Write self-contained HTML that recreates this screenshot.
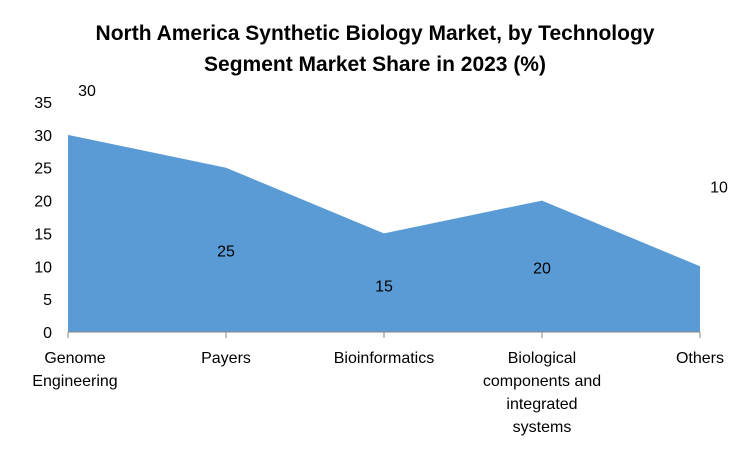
<!DOCTYPE html>
<html><head><meta charset="utf-8"><style>
body{margin:0;background:#fff;width:750px;height:450px;overflow:hidden;font-family:"Liberation Sans",sans-serif;}
svg text{font-family:"Liberation Sans",sans-serif;fill:#000;}
</style></head><body>
<svg id="chart" width="750" height="450" xmlns="http://www.w3.org/2000/svg">
<text x="375" y="40" text-anchor="middle" font-size="21" font-weight="bold">North America Synthetic Biology Market, by Technology</text>
<text x="375" y="71" text-anchor="middle" font-size="21" font-weight="bold">Segment Market Share in 2023 (%)</text>
<g id="plot"></g>
</svg>
<script>
const categories=[["Genome","Engineering"],["Payers"],["Bioinformatics"],["Biological","components and","integrated","systems"],["Others"]];
const values=[30,25,15,20,10];
const yTicks=[0,5,10,15,20,25,30,35];
const labelDx=[19,0,0,0,19];
const labelDy=[-45,83,52,67,-80];
const x0=68,x1=700,yBase=332,yTop=102,yMax=35;
const xs=i=>x0+i*(x1-x0)/(categories.length-1);
const ys=v=>yBase-v*(yBase-yTop)/yMax;
const ns="http://www.w3.org/2000/svg";
const g=document.getElementById('plot');
function mk(t,a){const e=document.createElementNS(ns,t);for(const k in a)e.setAttribute(k,a[k]);g.appendChild(e);return e;}
let d=`M${xs(0)},${yBase}`;
values.forEach((v,i)=>d+=` L${xs(i)},${ys(v)}`);
d+=` L${xs(values.length-1)},${yBase} Z`;
const area=mk('path',{d:d,fill:'#5B9BD5'});


const ax=mk('line',{x1:x0,y1:yBase,x2:x1,y2:yBase,stroke:'#868686','stroke-width':1});


yTicks.forEach(t=>{
 const e=mk('text',{x:52,y:ys(t)+6,'text-anchor':'end','font-size':16});
 e.textContent=t;
 
 
});
categories.forEach((c,i)=>{
 const tk=mk('line',{x1:xs(i),y1:yBase,x2:xs(i),y2:yBase+6,stroke:'#868686'});
 
 
 let xx=xs(i);
 if(i===0){xx=xs(i)+7;}
 const t=mk('text',{x:xx,y:363,'text-anchor':'middle','font-size':16});
 c.forEach((line,j)=>{const s=document.createElementNS(ns,'tspan');s.setAttribute('x',xx);s.setAttribute('dy',j?23:0);s.textContent=line;t.appendChild(s);});
 
 
});
values.forEach((v,i)=>{
 const e=mk('text',{x:xs(i)+labelDx[i],y:ys(v)+labelDy[i]+6,'text-anchor':'middle','font-size':16});
 e.textContent=v;
 
 
});
</script>
</body></html>
